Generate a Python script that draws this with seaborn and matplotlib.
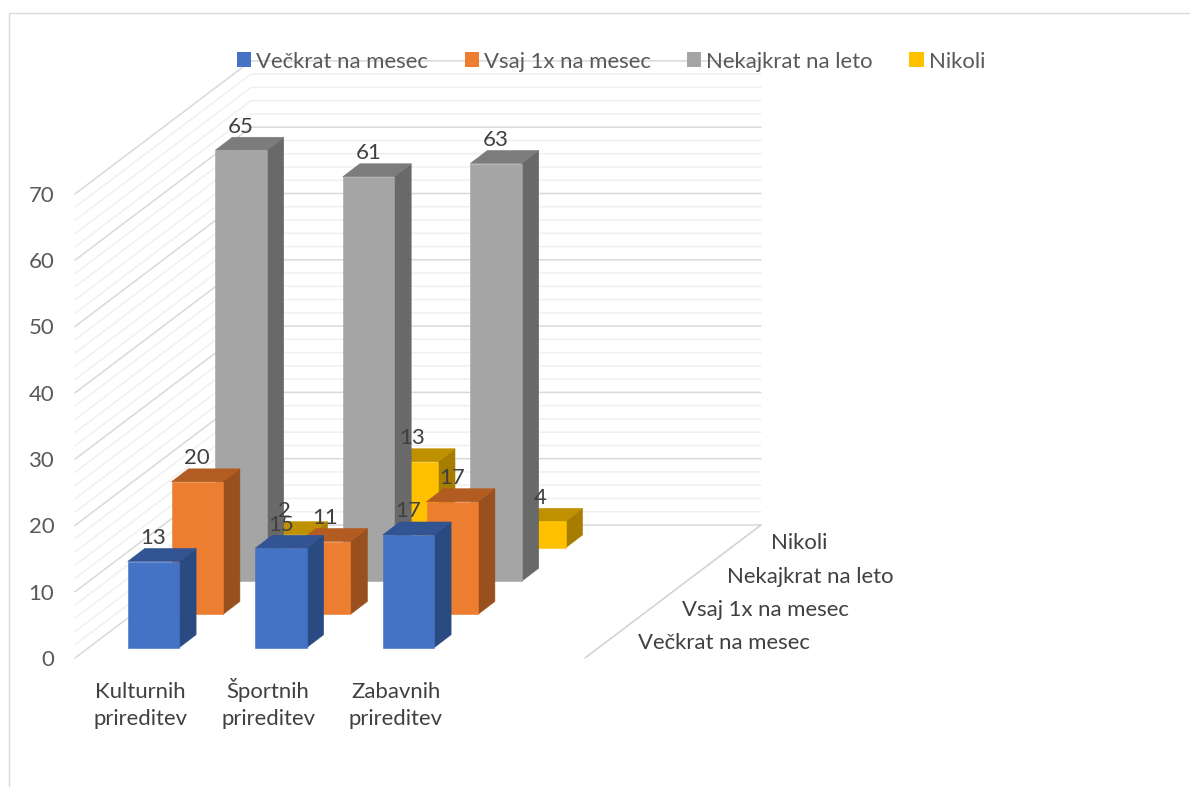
import numpy as np
import pandas as pd
import matplotlib
matplotlib.use("Agg")
import matplotlib.pyplot as plt
from matplotlib.patches import Polygon, Rectangle
from matplotlib.lines import Line2D
import seaborn as sns

categories = ["Kulturnih\nprireditev", "Športnih\nprireditev", "Zabavnih\nprireditev"]
series_names = ["Večkrat na mesec", "Vsaj 1x na mesec", "Nekajkrat na leto", "Nikoli"]
vecer = [13, 15, 17]
vsaj = [20, 11, 17]
nekaj = [65, 61, 63]
nikoli = [2, 13, 4]
all_values = [vecer, vsaj, nekaj, nikoli]
front_cols = ["#4472C4", "#ED7D31", "#A5A5A5", "#FFC000"]
top_cols = ["#325492", "#B35C22", "#7C7C7C", "#BF9000"]
side_cols = ["#2A4A82", "#97501E", "#696969", "#A67D00"]
text_col = "#404040"
legend_col = "#595959"

W, H = 1190, 787
X0, Y0 = 75.0, 658.0       # pixel of data (0, 0)
PX, PY = 127.5, 6.63       # pixels per category, per value unit
SX, SY = 43.8 / PX, 33.25 / PY   # one series step into depth, in data units
DX, DY = 17.0 / PX, 13.0 / PY    # bar depth
BW = 51.4 / PX                    # bar width
BX, BY = (127.7 - X0) / PX, (658 - 647.7) / PY   # offset of first bar

sns.set_theme(style="white")
plt.rcParams["font.family"] = ["Lato", "DejaVu Sans"]
FS = 15.9

fig = plt.figure(figsize=(W / 100, H / 100), dpi=100)
ax = fig.add_axes([0, 0, 1, 1])
ax.patch.set_alpha(0)

# chart border
fig.add_artist(Line2D([9 / W, 9 / W, 1], [0, 1 - 13 / H, 1 - 13 / H], color="#d9d9d9", lw=1.0))

# walls and floor
WX, WY = 176.0 / PX, 133.0 / PY
levels = np.arange(0, 71, 2)
for v in levels:
    major = v % 10 == 0
    c, lw = ("#d9d9d9", 1.1) if major else ("#f0f0f0", 1.1)
    ax.plot([0, WX, 4 + WX], [v, v + WY, v + WY], color=c, lw=lw,
            zorder=0.6 if major else 0.5, solid_joinstyle="miter")
ax.plot([4, 4 + WX], [0, WY], color="#d0d0d0", lw=1.1, zorder=0.6)

# bars, back series first
for s in range(3, -1, -1):
    n_before = len(ax.patches)
    df = pd.DataFrame({"pos": np.arange(3), "val": all_values[s]})
    sns.barplot(data=df, x="pos", y="val", native_scale=True, width=BW,
                color=front_cols[s], saturation=1, ax=ax, legend=False)
    for c, p in enumerate(ax.patches[n_before:]):
        v = all_values[s][c]
        x = c + BX + s * SX
        y = BY + s * SY
        p.set_x(x)
        p.set_y(y)
        p.set_width(BW)
        p.set_height(v)
        p.set_facecolor(front_cols[s])
        p.set_edgecolor(front_cols[s])
        p.set_linewidth(0.4)
        p.set_zorder(10 + (3 - s) * 3 + 2)
        side = [(x + BW, y), (x + BW + DX, y + DY), (x + BW + DX, y + v + DY), (x + BW, y + v)]
        top = [(x, y + v), (x + DX, y + v + DY), (x + BW + DX, y + v + DY), (x + BW, y + v)]
        ax.add_patch(Polygon(side, closed=True, fc=side_cols[s], ec=side_cols[s], lw=0.4,
                             zorder=10 + (3 - s) * 3))
        ax.add_patch(Polygon(top, closed=True, fc=top_cols[s], ec=top_cols[s], lw=0.4,
                             zorder=10 + (3 - s) * 3 + 1))
        ax.text(x + BW / 2, y + v + DY + 10.5 / PY, str(v), ha="center", va="center",
                fontsize=FS, color=text_col, zorder=40)

# series axis labels
for s, name in enumerate(series_names):
    ax.text((638 - X0) / PX + s * 44.3 / PX, 2.25 + s * SY, name, ha="left", va="center",
            fontsize=FS, color=text_col, zorder=40)

# scales
ax.set_xlim(-X0 / PX, (W - X0) / PX)
ax.set_ylim(-(H - Y0) / PY, Y0 / PY)
ax.set_xlabel("")
ax.set_ylabel("")
ax.spines["left"].set_position(("data", 0))
ax.spines["bottom"].set_position(("data", 0))
for sp in ax.spines.values():
    sp.set_visible(False)
ax.set_yticks(np.arange(0, 71, 10))
ax.set_xticks([0.515, 1.515, 2.515])
ax.set_xticklabels(categories, fontsize=FS, color=text_col, linespacing=1.42, va="baseline")
ax.tick_params(axis="y", length=0, pad=15, labelsize=FS, labelcolor=legend_col)
ax.tick_params(axis="x", length=0, pad=48)

# legend
handles = [Rectangle((0, 0), 1, 1, fc=c, ec="none") for c in front_cols]
leg = ax.legend(handles, series_names, loc="center", bbox_to_anchor=(611 / W, 1 - 61.5 / H),
                ncol=4, frameon=False, fontsize=FS, labelcolor=legend_col,
                handlelength=0.64, handleheight=0.64, handletextpad=0.23, columnspacing=1.65,
                borderpad=0, borderaxespad=0)
leg.set_zorder(50)

fig.savefig("out.png", dpi=100)
